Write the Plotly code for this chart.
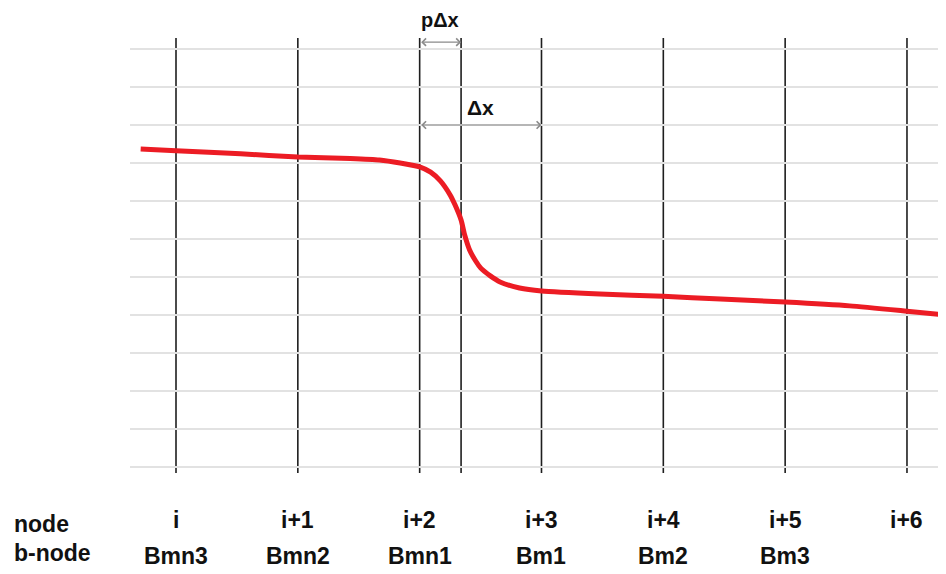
import plotly.graph_objects as go

# ---- data ----
node_pos = [0, 1, 2, 3, 4, 5, 6]
node_labels = ["i", "i+1", "i+2", "i+3", "i+4", "i+5", "i+6"]
bnode_labels = ["Bmn3", "Bmn2", "Bmn1", "Bm1", "Bm2", "Bm3", ""]
row_titles = ["node", "b-node"]
p = 0.34  # fraction of dx

curve_x = [-0.29, 0.0, 0.53, 1.0, 1.43, 1.67, 1.84, 2.0, 2.09, 2.17, 2.25, 2.29,
           2.34, 2.37, 2.41, 2.46, 2.5, 2.58, 2.66, 2.82, 3.0, 3.48, 4.0, 4.47,
           5.0, 5.53, 6.0, 6.32]
curve_y = [8.37, 8.32, 8.24, 8.16, 8.12, 8.08, 8.0, 7.9, 7.76, 7.53, 7.16, 6.9,
           6.5, 6.1, 5.71, 5.42, 5.24, 5.03, 4.87, 4.71, 4.63, 4.55, 4.49, 4.42,
           4.34, 4.24, 4.1, 4.0]

grid_levels = list(range(12))
dx_arrow_y = 9.0
pdx_arrow_y = 11.18

XR = [-0.3776, 6.3203]
YR = [-0.158, 11.289]

FONT = "Liberation Sans, Arial, sans-serif"

fig = go.Figure()

fig.add_trace(go.Scatter(
    x=curve_x, y=curve_y, mode="lines",
    line=dict(color="#ec1c24", width=5, shape="spline", smoothing=0.6),
    hoverinfo="skip", showlegend=False,
))

vlines = node_pos[:3] + [node_pos[2] + p] + node_pos[3:]
shapes = []
for xv in vlines:
    shapes.append(dict(type="line", xref="x", yref="paper", x0=xv, x1=xv, y0=0, y1=1,
                       line=dict(color="#1e1e1e", width=1.6), layer="below"))

annotations = []
# dimension arrows
annotations.append(dict(x=node_pos[2] + p, y=pdx_arrow_y, ax=node_pos[2], ay=pdx_arrow_y,
                        xref="x", yref="y", axref="x", ayref="y", text="",
                        showarrow=True, arrowside="end+start", arrowhead=4,
                        arrowsize=1.2, arrowwidth=1.2, arrowcolor="#8a8a8a"))
annotations.append(dict(x=node_pos[3], y=dx_arrow_y, ax=node_pos[2], ay=dx_arrow_y,
                        xref="x", yref="y", axref="x", ayref="y", text="",
                        showarrow=True, arrowside="end+start", arrowhead=4,
                        arrowsize=1.2, arrowwidth=1.2, arrowcolor="#8a8a8a"))
annotations.append(dict(x=node_pos[2] + p / 2, y=1.041, xref="x", yref="paper",
                        text="p\u0394x", showarrow=False, xanchor="center", yanchor="middle",
                        borderpad=0,
                        font=dict(family=FONT, size=20, color="#111", weight="bold")))
annotations.append(dict(x=(node_pos[2] + node_pos[3]) / 2, y=9.45, xref="x", yref="y",
                        text="\u0394x", showarrow=False, xanchor="center", yanchor="middle",
                        font=dict(family=FONT, size=21, color="#111", weight="bold")))

for xv, nl, bl in zip(node_pos, node_labels, bnode_labels):
    annotations.append(dict(x=xv, y=-0.108, xref="x", yref="paper", text=nl,
                            showarrow=False, xanchor="center", yanchor="middle",
                            font=dict(family=FONT, size=23, color="#111", weight="bold")))
    if bl:
        annotations.append(dict(x=xv, y=-0.19, xref="x", yref="paper", text=bl,
                                showarrow=False, xanchor="center", yanchor="middle",
                                font=dict(family=FONT, size=23, color="#111", weight="bold")))

for t, yp in zip(row_titles, [-0.118, -0.184]):
    annotations.append(dict(x=-0.1446, y=yp, xref="paper", yref="paper", text=t,
                            showarrow=False, xanchor="left", yanchor="middle",
                            font=dict(family=FONT, size=23, color="#111", weight="bold")))

fig.update_layout(
    width=938, height=566,
    margin=dict(l=122, r=0, t=30, b=101),
    paper_bgcolor="white", plot_bgcolor="white",
    shapes=shapes, annotations=annotations,
    xaxis=dict(range=XR, showgrid=False, zeroline=False, showline=False,
               showticklabels=False, ticks=""),
    yaxis=dict(range=YR, tickvals=grid_levels, showgrid=True, gridcolor="#e2e2e2",
               gridwidth=2, zeroline=False, showline=False, showticklabels=False, ticks=""),
    showlegend=False,
)

fig.write_html("out.html")
